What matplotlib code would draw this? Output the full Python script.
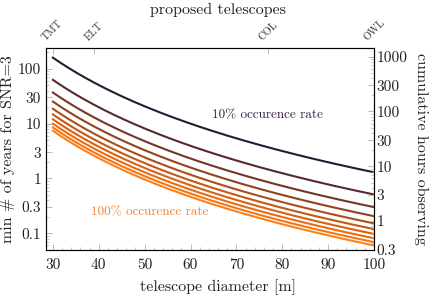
import numpy as np
import matplotlib
matplotlib.use("Agg")
import matplotlib.pyplot as plt
from matplotlib.ticker import FixedLocator, NullFormatter, LogLocator

plt.rcParams['font.family'] = ['cmr10', 'DejaVu Serif']
plt.rcParams['axes.formatter.use_mathtext'] = True

# occurrence rates (10% ... 100%)
rates = [10, 20, 30, 40, 50, 60, 70, 80, 90, 100]
# min years for SNR=3 at D = 30 m for each curve
years_at_30 = [160, 63, 37, 25.3, 18.7, 14.7, 12.0, 10.0, 8.5, 7.4]
# power-law slope of every curve vs. telescope diameter
slope = -4.0
hours_per_year = 6.0

colors = ['#2b1833', '#55292f', '#763624', '#93421d', '#ad4d18',
          '#c45814', '#d86212', '#e96c12', '#f57614', '#ff8018']

tel_names = ['TMT', 'ELT', 'COL', 'OWL']
tel_diam = [30, 39, 77, 100]

x_ticks = [30, 40, 50, 60, 70, 80, 90, 100]
y_ticks = [0.1, 0.3, 1, 3, 10, 30, 100]
y_labels = ['0.1', '0.3', '1', '3', '10', '30', '100']
r_ticks = [0.3, 1, 3, 10, 30, 100, 300, 1000]
r_labels = ['0.3', '1', '3', '10', '30', '100', '300', '1000']

W, H = 436, 298
fig = plt.figure(figsize=(W / 100, H / 100), dpi=100)
ax = fig.add_axes([46 / W, (H - 250) / H, (374 - 46) / W, (250 - 48) / H])

D = np.linspace(30, 100, 300)
for a, c in zip(years_at_30, colors):
    ax.plot(D, a * (D / 30.0) ** slope, color=c, lw=1.5)

ax.set_yscale('log')
ax.set_xlim(28.5, 100)
ylo, yhi = 0.0495, 240
ax.set_ylim(ylo, yhi)

spine_c = '#b0b0b0'
for s in ax.spines.values():
    s.set_color(spine_c)
    s.set_linewidth(0.8)

ax.xaxis.set_major_locator(FixedLocator(x_ticks))
ax.xaxis.set_minor_locator(FixedLocator(np.arange(28, 101, 2)))
ax.set_xticklabels([str(t) for t in x_ticks])
ax.yaxis.set_major_locator(FixedLocator(y_ticks))
ax.set_yticklabels(y_labels)
ax.yaxis.set_minor_locator(LogLocator(base=10, subs=np.arange(2, 10)))
ax.yaxis.set_minor_formatter(NullFormatter())
ax.tick_params(which='both', direction='in', color=spine_c, labelsize=11, labelcolor='#222222')
ax.tick_params(which='major', length=4, width=0.6)
ax.tick_params(which='minor', length=2, width=0.5)
ax.tick_params(axis='x', top=False, pad=6)

ax.set_xlabel('telescope diameter [m]', fontsize=11.5, color='#222222', labelpad=5)
ax.xaxis.set_label_coords((218 - 46) / 328, -0.13)
ax.xaxis.label.set_va('center')
ax.xaxis.set_label_coords((218 - 46) / 328, -(287 - 250) / 202)
ax.set_ylabel('min # of years for SNR=3', fontsize=11.5, color='#222222', labelpad=2)

# right axis: cumulative hours
axr = ax.twinx()
axr.set_yscale('log')
axr.set_ylim(ylo * hours_per_year, yhi * hours_per_year)
axr.yaxis.set_major_locator(FixedLocator(r_ticks))
axr.set_yticklabels(r_labels)
axr.yaxis.set_minor_locator(LogLocator(base=10, subs=np.arange(2, 10)))
axr.yaxis.set_minor_formatter(NullFormatter())
axr.tick_params(which='both', direction='in', color=spine_c, labelsize=11, labelcolor='#222222', pad=2)
axr.tick_params(which='major', length=4, width=0.6)
axr.tick_params(which='minor', length=2, width=0.5)
for s in axr.spines.values():
    s.set_color(spine_c)
    s.set_linewidth(0.8)
axr.set_ylabel('cumulative hours observing', fontsize=11.5, color='#222222', rotation=270, labelpad=15)

# top axis: proposed telescopes
axt = ax.twiny()
axt.set_xlim(ax.get_xlim())
axt.xaxis.set_major_locator(FixedLocator(tel_diam))
axt.set_xticklabels(tel_names, rotation=45, ha='center', va='bottom', fontsize=7.5, color='#333333')
axt.tick_params(axis='x', direction='in', color=spine_c, length=4, width=0.6, pad=4)
axt.set_xlabel('proposed telescopes', fontsize=11.5, color='#222222')
axt.xaxis.label.set_va('center')
axt.xaxis.set_label_coords((218 - 46) / 328, 1 + (48 - 10) / 202)

ax.text(76.7, 14.0, '10% occurence rate', fontsize=9.5, color='#3a2244', ha='center', va='center')
ax.text(51.2, 0.24, '100% occurence rate', fontsize=9.5, color='#f3833a', ha='center', va='center')

fig.savefig('out.png', dpi=100)
